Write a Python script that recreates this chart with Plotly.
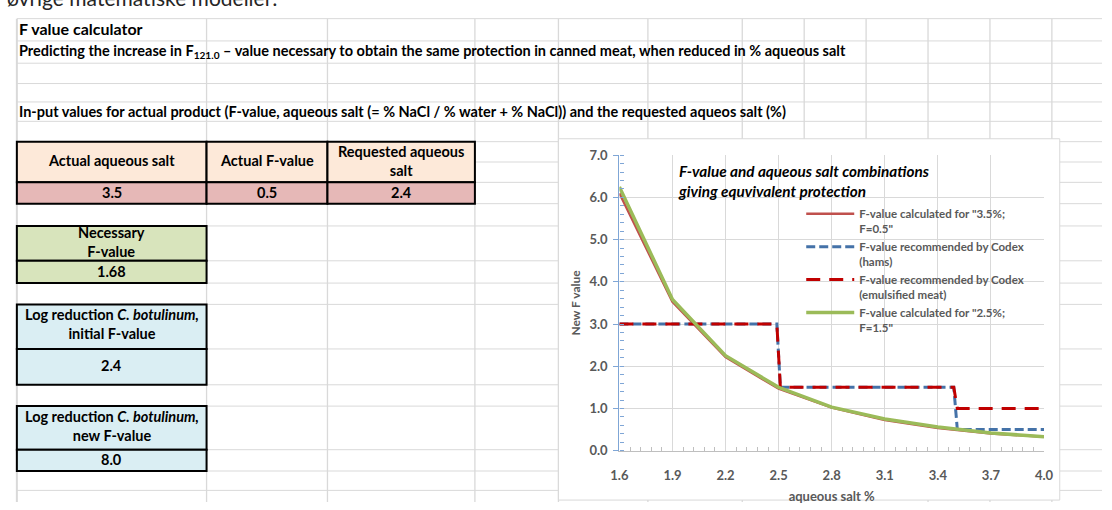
import plotly.graph_objects as go

W, H = 1112, 510

# ---------------- chart data ----------------
salt = [1.6, 1.9, 2.2, 2.5, 2.8, 3.1, 3.4, 3.7, 4.0]
f_calc_35 = [6.10, 3.53, 2.22, 1.47, 1.02, 0.73, 0.54, 0.41, 0.33]
f_calc_25 = [6.25, 3.58, 2.25, 1.50, 1.03, 0.75, 0.56, 0.42, 0.33]
codex_salt = [1.6, 2.49, 2.51, 3.49, 3.51, 4.0]
codex_hams = [3.0, 3.0, 1.5, 1.5, 0.5, 0.5]
codex_emulsified = [3.0, 3.0, 1.5, 1.5, 1.0, 1.0]

name_35 = 'F-value calculated for "3.5%;<br>F=0.5"'
name_hams = 'F-value recommended by Codex<br>(hams)'
name_emul = 'F-value recommended by Codex<br>(emulsified meat)'
name_25 = 'F-value calculated for "2.5%;<br>F=1.5"'

chart_title = "F-value and aqueous salt combinations<br>giving equvivalent protection"
x_title = "aqueous salt %"
y_title = "New F value"

# ---------------- spreadsheet content ----------------
page_heading = "øvrige matematiske modeller:"
sheet_title = "F value calculator"
sheet_subtitle = ("Predicting the increase in F<sub>121.0</sub> – value necessary to obtain the same "
                  "protection in canned meat, when reduced in % aqueous salt")
sheet_input_note = ("In-put values for actual product (F-value, aqueous salt (= % NaCl / % water + % NaCl)) "
                    "and the requested aqueos salt (%)")
input_headers = ["Actual aqueous salt", "Actual F-value", "Requested aqueous<br>salt"]
input_values = ["3.5", "0.5", "2.4"]
necessary_header = "Necessary<br>F-value"
necessary_value = "1.68"
logred_init_header = "Log reduction <i>C. botulinum,</i><br>initial F-value"
logred_init_value = "2.4"
logred_new_header = "Log reduction <i>C. botulinum,</i><br>new F-value"
logred_new_value = "8.0"

# ---------------- helpers ----------------
def X(px):
    return px / W

def Y(py):
    return 1 - py / H

FONT = "Lato"
GRID = "#D9D9D9"
SHEET_FS = 14.5

shapes = []
annotations = []

def line(x0, y0, x1, y1, color=GRID, width=1):
    shapes.append(dict(type="line", xref="paper", yref="paper",
                       x0=X(x0), y0=Y(y0), x1=X(x1), y1=Y(y1),
                       line=dict(color=color, width=width), layer="below"))

def rect(x0, y0, x1, y1, fill, color="black", width=2):
    shapes.append(dict(type="rect", xref="paper", yref="paper",
                       x0=X(x0), y0=Y(y0), x1=X(x1), y1=Y(y1),
                       fillcolor=fill, line=dict(color=color, width=width), layer="below"))

def text(x, y, s, size=SHEET_FS, anchor="center", color="black", bold=True):
    if bold:
        s = "<b>" + s + "</b>"
    annotations.append(dict(xref="paper", yref="paper", x=X(x), y=Y(y), text=s,
                            showarrow=False, xanchor=anchor, yanchor="middle",
                            align=anchor if anchor != "center" else "center",
                            borderpad=0,
                            font=dict(family=FONT, size=size, color=color)))

# spreadsheet gridlines
cols = [8, 201, 324, 474, 559, 650, 746, 809, 872, 935, 998, 1061]
rows = [11, 34, 57, 78, 97, 117, 138, 159, 180, 202, 225, 261, 284, 306,
        352, 389, 411, 456, 478, 498]
for c in cols:
    line(c, 11, c, H, width=1.3 if c > 8 else 2)
for r in rows:
    line(8, r, W, r)

# input table
hdr_fill = "#FDE9D9"
val_fill = "#E6B8B7"
edges = [8, 201, 324, 474]
for i in range(3):
    rect(edges[i], 138, edges[i + 1], 180, hdr_fill)
    rect(edges[i], 180, edges[i + 1], 202, val_fill)
    cx = (edges[i] + edges[i + 1]) / 2
    text(cx, 157.5, input_headers[i])
    text(cx, 190, input_values[i])

# necessary F-value
rect(8, 225, 201, 261, "#D8E4BC")
rect(8, 261, 201, 284, "#D8E4BC")
text(104.5, 241.5, necessary_header)
text(104.5, 272, necessary_value)

# log reduction boxes
blue_fill = "#DAEEF3"
rect(8, 306, 201, 352, blue_fill)
rect(8, 352, 201, 389, blue_fill)
text(104.5, 326.5, logred_init_header)
text(104.5, 369, logred_init_value)
rect(8, 411, 201, 456, blue_fill)
rect(8, 456, 201, 478, blue_fill)
text(104.5, 431.5, logred_new_header)
text(104.5, 466, logred_new_value)

# sheet texts
text(9, 21, sheet_title, size=16, anchor="left")
text(9, 45, sheet_subtitle, anchor="left")
text(9, 107, sheet_input_note, anchor="left")
text(-3, -11, page_heading, size=21, anchor="left", color="#262626", bold=False)

# chart area box
rect(559, 135, 1069, 508, "white", color="#D9D9D9", width=1)

# chart title
annotations.append(dict(xref="paper", yref="paper", x=X(680), y=Y(179),
                        text="<b><i>" + chart_title + "</i></b>", showarrow=False,
                        xanchor="left", yanchor="middle", align="left", borderpad=0,
                        font=dict(family=FONT, size=15.3, color="black")))

# ---------------- traces ----------------
fig = go.Figure()
fig.add_trace(go.Scatter(x=salt, y=f_calc_35, mode="lines", name="<b>" + name_35 + "</b>",
                         line=dict(color="#C0504D", width=2.6), legendgroup="a"))
fig.add_trace(go.Scatter(x=codex_salt, y=codex_hams, mode="lines", name="<b>" + name_hams + "</b>",
                         line=dict(color="#4472A8", width=3, dash="9px,4px"), legendgroup="b"))
fig.add_trace(go.Scatter(x=codex_salt, y=codex_emulsified, mode="lines", name="<b>" + name_emul + "</b>",
                         line=dict(color="#C00000", width=3, dash="14px,9px"), legendgroup="c"))
fig.add_trace(go.Scatter(x=salt, y=f_calc_25, mode="lines", name="<b>" + name_25 + "</b>",
                         line=dict(color="#9BBB59", width=3.5), legendgroup="d"))

tickfont = dict(family=FONT, size=13, color="#595959", weight="bold")
fig.update_layout(
    width=W, height=H,
    margin=dict(l=0, r=0, t=0, b=0),
    paper_bgcolor="white",
    plot_bgcolor="rgba(0,0,0,0)",
    shapes=shapes,
    annotations=annotations,
    showlegend=True,
    legend=dict(x=X(806), y=Y(198), xanchor="left", yanchor="top",
                font=dict(family=FONT, size=11.5, color="#595959"),
                bgcolor="rgba(0,0,0,0)", tracegroupgap=0, valign="top",
                itemwidth=48),
    xaxis=dict(domain=[X(621), X(1053)], range=[1.6, 4.0], tick0=1.6, dtick=0.3,
               tickformat=".1f", showgrid=True, gridcolor=GRID, gridwidth=1,
               zeroline=False, showline=True, linecolor="#BFBFBF", linewidth=1,
               ticks="", tickfont=tickfont, ticklabelstandoff=13,
               minor=dict(dtick=0.06, tick0=1.6, ticks="inside", ticklen=4,
                          tickcolor="#BFBFBF", showgrid=False),
               title=dict(text="<b>" + x_title + "</b>", standoff=9,
                          font=dict(family=FONT, size=13, color="#595959"))),
    yaxis=dict(domain=[Y(457), Y(152)], range=[0, 7], dtick=1,
               tickformat=".1f", showgrid=True, gridcolor=GRID, gridwidth=1,
               zeroline=False, showline=True, linecolor="#7FA6D6", linewidth=1.3,
               ticks="outside", ticklen=5, tickcolor="#7FA6D6", tickfont=tickfont,
               ticklabelstandoff=3,
               minor=dict(dtick=0.2, ticks="inside", ticklen=4,
                          tickcolor="#7FA6D6", showgrid=False),
               title=dict(text="<b>" + y_title + "</b>", standoff=6,
                          font=dict(family=FONT, size=12, color="#595959"))),
)

fig.write_html("out.html")
